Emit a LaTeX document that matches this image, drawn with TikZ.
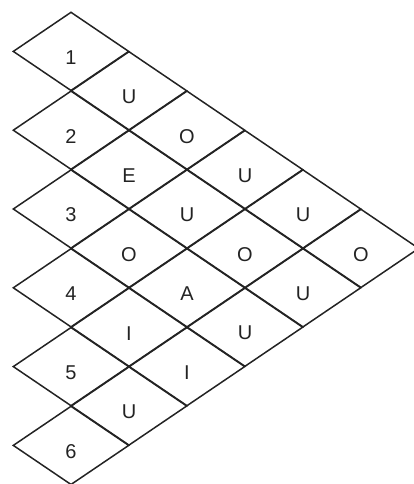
\documentclass[tikz,border=0pt]{standalone}
\usepackage{fontspec}
\setmainfont{Liberation Sans}
\usetikzlibrary{shapes.geometric}
\definecolor{inkgray}{RGB}{35,35,35}

\begin{document}
\begin{tikzpicture}[x=1pt, y=-1pt,
    cell/.style={diamond, draw=inkgray, line width=1.5pt, minimum width=116pt, minimum height=78.8pt, inner sep=0pt},
    letter/.style={font=\fontsize{20}{20}\selectfont, text=inkgray, yshift=-6pt}]

    \useasboundingbox (0,0) rectangle (413,484);

    % column 0 holds the numbers, the others the vowels
    \foreach \c/\vals in {0/{1,2,3,4,5,6}, 1/{U,E,O,I,U}, 2/{O,U,A,I}, 3/{U,O,U}, 4/{U,U}, 5/{O}} {
        \foreach \t [count=\r from 0] in \vals {
            \node[cell, label={[letter]center:\t}] (c\c-\r) at ({71+58*\c}, {12+39.4*(1+\c+2*\r)}) {};
        }
    }
\end{tikzpicture}
\end{document}
